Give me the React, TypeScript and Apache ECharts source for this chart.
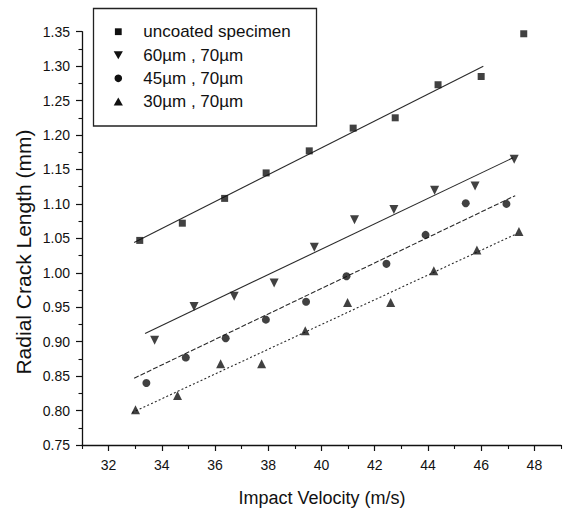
import React, { useEffect, useRef } from 'react';
import * as echarts from 'echarts';

const seriesNames = ['uncoated specimen', '60µm , 70µm', '45µm , 70µm', '30µm , 70µm'];

const velUncoated = [33.17, 34.77, 36.36, 37.92, 39.54, 41.19, 42.77, 44.38, 46.0, 47.6];
const crackUncoated = [1.047, 1.072, 1.108, 1.145, 1.177, 1.21, 1.225, 1.273, 1.285, 1.347];
const vel60 = [33.73, 35.21, 36.72, 38.22, 39.73, 41.24, 42.72, 44.25, 45.77, 47.24];
const crack60 = [0.902, 0.951, 0.966, 0.985, 1.037, 1.077, 1.092, 1.12, 1.126, 1.165];
const vel45 = [33.42, 34.9, 36.4, 37.91, 39.42, 40.94, 42.44, 43.91, 45.42, 46.95];
const crack45 = [0.84, 0.877, 0.905, 0.932, 0.958, 0.995, 1.013, 1.055, 1.101, 1.1];
const vel30 = [33.01, 34.59, 36.21, 37.75, 39.39, 40.98, 42.6, 44.22, 45.84, 47.42];
const crack30 = [0.801, 0.822, 0.868, 0.868, 0.916, 0.957, 0.957, 1.003, 1.033, 1.06];

// linear fit end points
const fitVel = [
  [32.96, 46.08],
  [33.37, 47.2],
  [32.96, 47.28],
  [32.88, 47.35],
];
const fitCrack = [
  [1.044, 1.3],
  [0.912, 1.167],
  [0.847, 1.112],
  [0.797, 1.057],
];

const xMajorTicks = [32, 34, 36, 38, 40, 42, 44, 46, 48];
const xMinorTicks = [31, 33, 35, 37, 39, 41, 43, 45, 47, 49];
const xTitle = 'Impact Velocity (m/s)';
const yTitle = 'Radial Crack Length (mm)';

const FONT = 'Arial, "Liberation Sans", Helvetica, sans-serif';
const INK = '#111';

const zip = (xs: number[], ys: number[]) => xs.map((x, i) => [x, ys[i]]);

function legendGraphics() {
  const boxX = 93.5, boxY = 8.5, boxW = 223, boxH = 117.5;
  const symX = 118.3, textX = 143.3;
  const rowY = [31.7, 55, 78.3, 101.7];
  const els: any[] = [
    {
      type: 'rect',
      shape: { x: boxX, y: boxY, width: boxW, height: boxH },
      style: { fill: 'none', stroke: '#222', lineWidth: 1.3 },
      z: 10,
    },
  ];
  const s = 4.6;
  const syms = [
    { type: 'rect', shape: { x: symX - 3.4, y: rowY[0] - 3.4, width: 6.8, height: 6.8 }, style: { fill: INK } },
    {
      type: 'polygon',
      shape: { points: [[symX - s, rowY[1] - 3.8], [symX + s, rowY[1] - 3.8], [symX, rowY[1] + 4.2]] },
      style: { fill: INK },
    },
    { type: 'circle', shape: { cx: symX, cy: rowY[2], r: 3.8 }, style: { fill: INK } },
    {
      type: 'polygon',
      shape: { points: [[symX - s, rowY[3] + 3.8], [symX + s, rowY[3] + 3.8], [symX, rowY[3] - 4.2]] },
      style: { fill: INK },
    },
  ];
  syms.forEach((g) => els.push({ ...g, z: 10 }));
  seriesNames.forEach((name, i) => {
    els.push({
      type: 'text',
      x: textX,
      y: rowY[i],
      z: 10,
      style: {
        text: name,
        font: `17px ${FONT}`,
        fill: INK,
        textAlign: 'left',
        textVerticalAlign: 'middle',
        align: 'left',
        verticalAlign: 'middle',
      },
    });
  });
  return els;
}

export default function App() {
  const ref = useRef<HTMLDivElement>(null);
  useEffect(() => {
    if (!ref.current) return;
    const chart = echarts.init(ref.current, undefined, { renderer: 'svg' });
    const symbols = [
      { symbol: 'rect', size: 7, rotate: 0 },
      { symbol: 'triangle', size: 9, rotate: 180 },
      { symbol: 'circle', size: 8, rotate: 0 },
      { symbol: 'triangle', size: 9, rotate: 0 },
    ];
    const pts = [
      zip(velUncoated, crackUncoated),
      zip(vel60, crack60),
      zip(vel45, crack45),
      zip(vel30, crack30),
    ];
    const lineTypes: any[] = ['solid', 'solid', [5, 2], [2, 2.2]];
    const scatterSeries = seriesNames.map((name, i) => ({
      name,
      type: 'scatter',
      xAxisIndex: 0,
      yAxisIndex: 0,
      data: pts[i],
      symbol: symbols[i].symbol,
      symbolSize: symbols[i].size,
      symbolRotate: symbols[i].rotate,
      itemStyle: { color: INK },
      z: 3,
    }));
    const fitSeries = fitVel.map((xs, i) => ({
      name: 'fit' + i,
      type: 'line',
      xAxisIndex: 0,
      yAxisIndex: 0,
      data: zip(xs, fitCrack[i]),
      showSymbol: false,
      symbol: 'none',
      lineStyle: { color: '#2a2a2a', width: 1.1, type: lineTypes[i] },
      z: 2,
    }));
    chart.setOption({
      animation: false,
      grid: { left: 82, right: 3, top: 31.7, bottom: 64, outerBoundsMode: 'none', containLabel: false },
      xAxis: [
        {
          type: 'value',
          min: 31,
          max: 49,
          position: 'bottom',
          axisLine: { show: true, lineStyle: { color: INK, width: 1.3 } },
          axisTick: { show: true, length: 6, customValues: xMajorTicks, lineStyle: { color: INK, width: 1.2 } },
          axisLabel: { show: true, customValues: xMajorTicks, margin: 13, fontSize: 14, fontFamily: FONT, color: INK },
          splitLine: { show: false },
        },
        {
          type: 'value',
          min: 31,
          max: 49,
          position: 'bottom',
          axisLine: { show: false },
          axisTick: { show: true, length: 4, customValues: xMinorTicks, lineStyle: { color: INK, width: 1.1 } },
          axisLabel: { show: false },
          splitLine: { show: false },
        },
      ],
      yAxis: {
        type: 'value',
        min: 0.75,
        max: 1.35,
        interval: 0.05,
        axisLine: { show: true, lineStyle: { color: INK, width: 1.3 } },
        axisTick: { show: true, length: 6, lineStyle: { color: INK, width: 1.2 } },
        minorTick: { show: true, splitNumber: 2, length: 3.5, lineStyle: { color: INK, width: 1.1 } },
        axisLabel: {
          margin: 12,
          fontSize: 14,
          fontFamily: FONT,
          color: INK,
          formatter: (v: number) => v.toFixed(2),
        },
        splitLine: { show: false },
      },
      graphic: [
        ...legendGraphics(),
        {
          type: 'text',
          x: 23,
          y: 252,
          rotation: Math.PI / 2,
          style: {
            text: yTitle,
            font: `21px ${FONT}`,
            fill: INK,
            textAlign: 'center',
            textVerticalAlign: 'middle',
            align: 'center',
            verticalAlign: 'middle',
          },
        },
        {
          type: 'text',
          x: 322,
          y: 498,
          style: {
            text: xTitle,
            font: `18px ${FONT}`,
            fill: INK,
            textAlign: 'center',
            textVerticalAlign: 'middle',
            align: 'center',
            verticalAlign: 'middle',
          },
        },
      ],
      series: [...fitSeries, ...scatterSeries],
    });
    return () => chart.dispose();
  }, []);
  return (
    <div
      ref={ref}
      style={{ position: 'fixed', left: 0, top: 0, width: 564, height: 509, background: '#fff' }}
    />
  );
}
